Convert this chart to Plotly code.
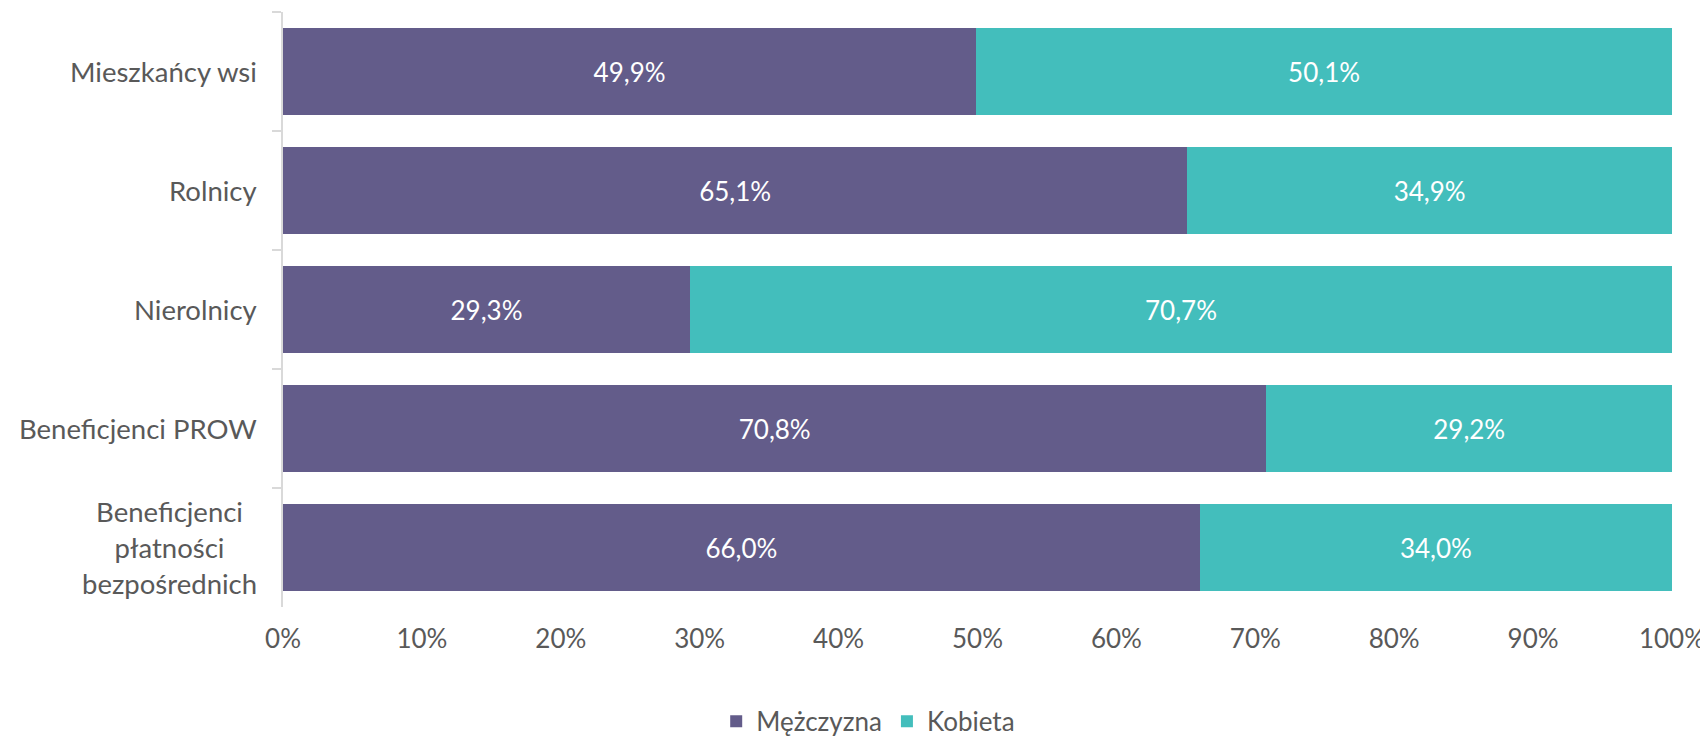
import plotly.graph_objects as go

categories = ["Mieszkańcy wsi", "Rolnicy", "Nierolnicy", "Beneficjenci PROW",
              "Beneficjenci płatności bezpośrednich"]
category_labels = ["Mieszkańcy wsi", "Rolnicy", "Nierolnicy", "Beneficjenci PROW",
                   "Beneficjenci<br>płatności<br>bezpośrednich"]
men = [49.9, 65.1, 29.3, 70.8, 66.0]
women = [50.1, 34.9, 70.7, 29.2, 34.0]
series_names = ["Mężczyzna", "Kobieta"]
x_ticks = [0, 10, 20, 30, 40, 50, 60, 70, 80, 90, 100]

FONT = "Lato"
GRAY = "#595959"
colors = ["#635C8A", "#43BEBC"]


def fmt(v):
    return f"{v:.1f}".replace(".", ",") + "%"


fig = go.Figure()
for name, vals, col in zip(series_names, [men, women], colors):
    fig.add_trace(go.Bar(
        y=categories, x=vals, name=name, orientation="h",
        marker=dict(color=col, line=dict(width=0)),
        text=[fmt(v) for v in vals], textposition="inside",
        insidetextanchor="middle",
        textfont=dict(color="white", size=26, family=FONT),
        hoverinfo="skip",
    ))

for cat, lab in zip(categories, category_labels):
    fig.add_annotation(
        x=0, xref="paper", y=cat, yref="y", text=lab, showarrow=False,
        xanchor="right", yanchor="middle", align="center", xshift=-24,
        font=dict(size=27.5, family=FONT, color=GRAY),
    )

fig.update_layout(
    width=1700, height=732,
    barmode="stack", bargap=0.277,
    plot_bgcolor="white", paper_bgcolor="white",
    margin=dict(l=275, r=36, t=4, b=133, autoexpand=False),
    font=dict(family=FONT, color=GRAY, size=26),
    showlegend=True,
    legend=dict(orientation="h", traceorder="normal",
                xref="container", x=0.506, xanchor="center",
                yref="paper", y=-0.192, yanchor="middle",
                font=dict(size=26, family=FONT, color=GRAY),
                itemwidth=30, tracegroupgap=0),
    uniformtext=dict(mode="show", minsize=10),
)
fig.update_xaxes(
    range=[0, 100], tickvals=x_ticks, ticktext=[f"{t}%" for t in x_ticks],
    showgrid=False, zeroline=False, showline=False, ticks="",
    tickfont=dict(size=26, family=FONT, color=GRAY),
    ticklabelstandoff=14, automargin=False,
)
fig.update_yaxes(
    categoryorder="array", categoryarray=categories, autorange="reversed",
    showticklabels=False, showgrid=False, zeroline=False,
    showline=True, linecolor="#D9D9D9", linewidth=1.5,
    ticks="outside", tickson="boundaries", ticklen=9, tickcolor="#D9D9D9",
    tickwidth=1.5, automargin=False,
)

fig.write_html("out.html")
